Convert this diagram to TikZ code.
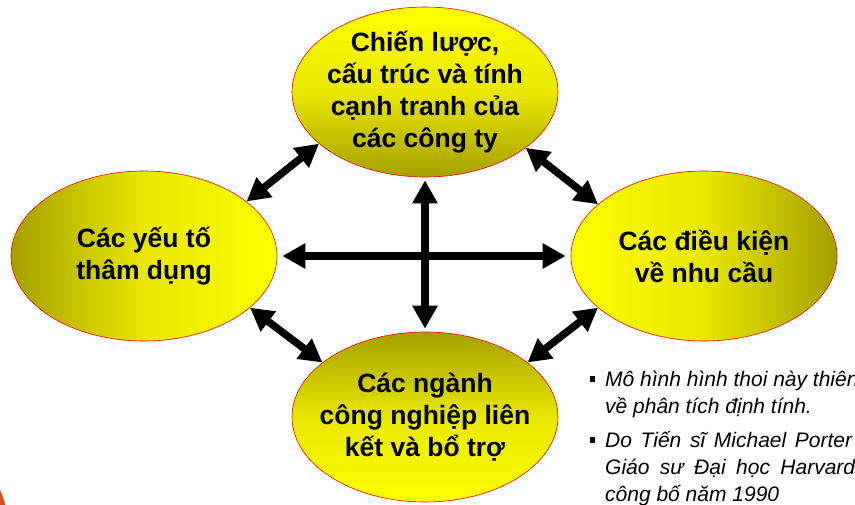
\documentclass[tikz,border=0pt]{standalone}
\usepackage{fontspec}
\setmainfont{Liberation Sans}
\usetikzlibrary{shapes.geometric,arrows.meta}
\definecolor{ylw}{RGB}{255,255,0}
\definecolor{olv}{RGB}{165,160,0}
\definecolor{orng}{RGB}{212,80,26}
\tikzset{
 factor/.style={ellipse, draw=red, line width=0.6pt, minimum width=266pt, minimum height=170pt, inner sep=-30pt, align=center, font=\fontsize{26.5}{32}\selectfont\bfseries},
 link/.style={line width=7.5pt, {Triangle[length=23pt,width=24pt]}-{Triangle[length=23pt,width=24pt]}},
 note/.style={anchor=base west, inner sep=0pt, font=\fontsize{21}{24}\selectfont\itshape},
 bullet/.style={fill=black, minimum size=5.5pt, inner sep=0pt},
}
\begin{document}
\begin{tikzpicture}[x=1pt,y=-1pt]
\useasboundingbox (0,0) rectangle (855,504);
\clip (0,0) rectangle (855,504);
\fill[orng] (-60,520) circle (67);
\node[factor, top color=ylw, bottom color=olv, middle color=ylw!75!olv] (T) at (425,92) {Chiến lược,\\cấu trúc và tính\\cạnh tranh của\\các công ty};
\node[factor, left color=olv, right color=ylw, middle color=ylw!75!olv] (L) at (144,256) {Các yếu tố\\thâm dụng};
\node[factor, left color=ylw, right color=olv, middle color=ylw!75!olv] (R) at (704,256) {Các điều kiện\\về nhu cầu};
\node[factor, top color=olv, bottom color=ylw, middle color=ylw!75!olv] (B) at (425,417) {Các ngành\\công nghiệp liên\\kết và bổ trợ};
\draw[link] (L.28) -- (T.206);
\draw[link] (T.-29) -- (R.154);
\draw[link] (L.-26) -- (B.152);
\draw[link] (B.28) -- (R.206);
\draw[link, shorten <=5pt, shorten >=5pt] (L.east) -- (R.west);
\draw[link, shorten <=3pt, shorten >=3pt] (T.south) -- (B.north);
\node[bullet] (b1) at (592.5,379) {};
\node[note] (n1) at (605,386) {Mô hình hình thoi này thiên};
\node[note] (n2) at (605,413) {về phân tích định tính.};
\node[bullet] (b2) at (592.5,440) {};
\node[note] (n3) at (605,447) {\makebox[247pt][s]{Do Tiến sĩ Michael Porter}};
\node[note] (n4) at (605,474) {\makebox[250pt][s]{Giáo sư Đại học Harvard}};
\node[note] (n5) at (605,501) {công bố năm 1990};
\end{tikzpicture}
\end{document}
